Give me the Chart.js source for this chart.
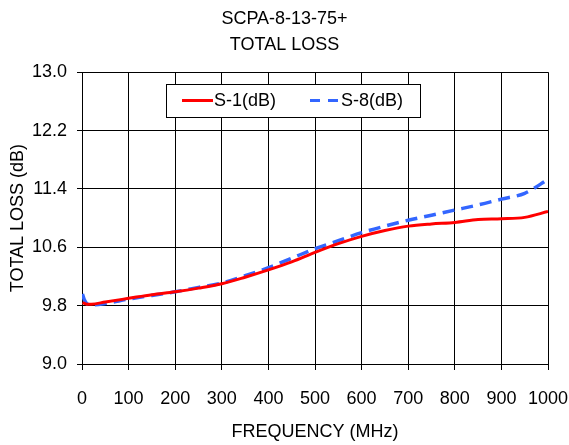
<!DOCTYPE html>
<html>
<head>
<meta charset="utf-8">
<script src="https://cdn.jsdelivr.net/npm/chart.js@4.4.0/dist/chart.umd.min.js"></script>
<style>
  html, body { margin: 0; padding: 0; background: #fff; }
  #wrap { width: 569px; height: 445px; }
</style>
</head>
<body>
<div id="wrap"><canvas id="c" width="569" height="445"></canvas></div>
<script>
const freqs = [1, 5, 10, 20, 50, 100, 150, 200, 250, 300, 350, 400, 450, 500, 550, 600, 650, 700, 750, 800, 850, 900, 950, 1000];
const s1 = [9.84, 9.83, 9.82, 9.82, 9.85, 9.90, 9.95, 9.99, 10.04, 10.10, 10.19, 10.29, 10.40, 10.53, 10.65, 10.75, 10.83, 10.89, 10.92, 10.94, 10.98, 10.99, 11.01, 11.09];
const s8 = [9.96, 9.88, 9.83, 9.81, 9.83, 9.89, 9.94, 9.99, 10.05, 10.11, 10.21, 10.32, 10.45, 10.58, 10.69, 10.80, 10.89, 10.97, 11.04, 11.11, 11.18, 11.26, 11.34, 11.53];
const yTicks = [9.0, 9.8, 10.6, 11.4, 12.2, 13.0];

const font = 'Liberation Sans, Arial, sans-serif';

// legend drawn inside the plot area, like the original
const boxLegend = {
    id: 'boxLegend',
    afterDraw(chart) {
        const ctx = chart.ctx;
        const x0 = 166, y0 = 84, w = 254, h = 33;
        ctx.save();
        ctx.fillStyle = '#fff';
        ctx.fillRect(x0, y0, w, h);
        ctx.strokeStyle = '#000';
        ctx.lineWidth = 1;
        ctx.strokeRect(x0 + 0.5, y0 + 0.5, w, h);
        ctx.font = '18px ' + font;
        ctx.textBaseline = 'middle';
        ctx.fillStyle = '#000';
        const cy = y0 + h / 2 + 1;
        // S-1
        ctx.strokeStyle = '#ff0000';
        ctx.lineWidth = 3;
        ctx.beginPath(); ctx.moveTo(182, cy - 1); ctx.lineTo(213, cy - 1); ctx.stroke();
        ctx.fillText(chart.data.datasets[0].label, 214, cy);
        // S-8
        ctx.strokeStyle = '#3366ff';
        ctx.setLineDash([10, 8]);
        ctx.beginPath(); ctx.moveTo(310, cy - 1); ctx.lineTo(341, cy - 1); ctx.stroke();
        ctx.setLineDash([]);
        ctx.fillText(chart.data.datasets[1].label, 341, cy);
        ctx.restore();
    }
};

const pts = (ys) => freqs.map((f, i) => ({ x: f, y: ys[i] }));

new Chart(document.getElementById('c'), {
    type: 'line',
    data: {
        datasets: [
            {
                label: 'S-1(dB)',
                data: pts(s1),
                borderColor: '#ff0000',
                borderWidth: 3,
                pointRadius: 0,
                cubicInterpolationMode: 'monotone'
            },
            {
                label: 'S-8(dB)',
                data: pts(s8),
                borderColor: '#3366ff',
                borderWidth: 3.5,
                borderDash: [12, 7],
                pointRadius: 0,
                cubicInterpolationMode: 'monotone'
            }
        ]
    },
    options: {
        responsive: false,
        animation: false,
        layout: { padding: { left: 0, right: 0, top: 6, bottom: 0 } },
        plugins: {
            legend: { display: false },
            tooltip: { enabled: false },
            title: {
                display: true,
                text: ['SCPA-8-13-75+', 'TOTAL LOSS'],
                color: '#000',
                font: { family: font, size: 18, weight: 'normal', lineHeight: 1.45 },
                padding: { top: 0, bottom: 14 }
            }
        },
        scales: {
            x: {
                type: 'linear',
                min: 0,
                max: 1000,
                ticks: { stepSize: 100, color: '#000', font: { family: font, size: 18 }, padding: 18, maxRotation: 0, callback: (v) => String(v) },
                grid: { color: '#000', lineWidth: 1, drawTicks: true, tickLength: 6 },
                border: { color: '#000', width: 1 },
                title: { display: true, text: 'FREQUENCY (MHz)', color: '#000', font: { family: font, size: 18 }, padding: { top: 6, bottom: 2 } },
                afterFit: (s) => { s.height = 81; s.paddingRight = 21; s.paddingLeft = 0; }
            },
            y: {
                min: 9,
                max: 13,
                afterBuildTicks: (s) => { s.ticks = yTicks.map(v => ({ value: v })); },
                ticks: { color: '#000', font: { family: font, size: 18 }, padding: 10, callback: (v) => Number(v).toFixed(1) },
                grid: { color: '#000', lineWidth: 1, drawTicks: true, tickLength: 5 },
                border: { color: '#000', width: 1 },
                title: { display: true, text: 'TOTAL LOSS (dB)', color: '#000', font: { family: font, size: 18 }, padding: { top: 7, bottom: 0 } },
                afterFit: (s) => { s.width = 82; }
            }
        }
    },
    plugins: [boxLegend]
});
</script>
</body>
</html>
